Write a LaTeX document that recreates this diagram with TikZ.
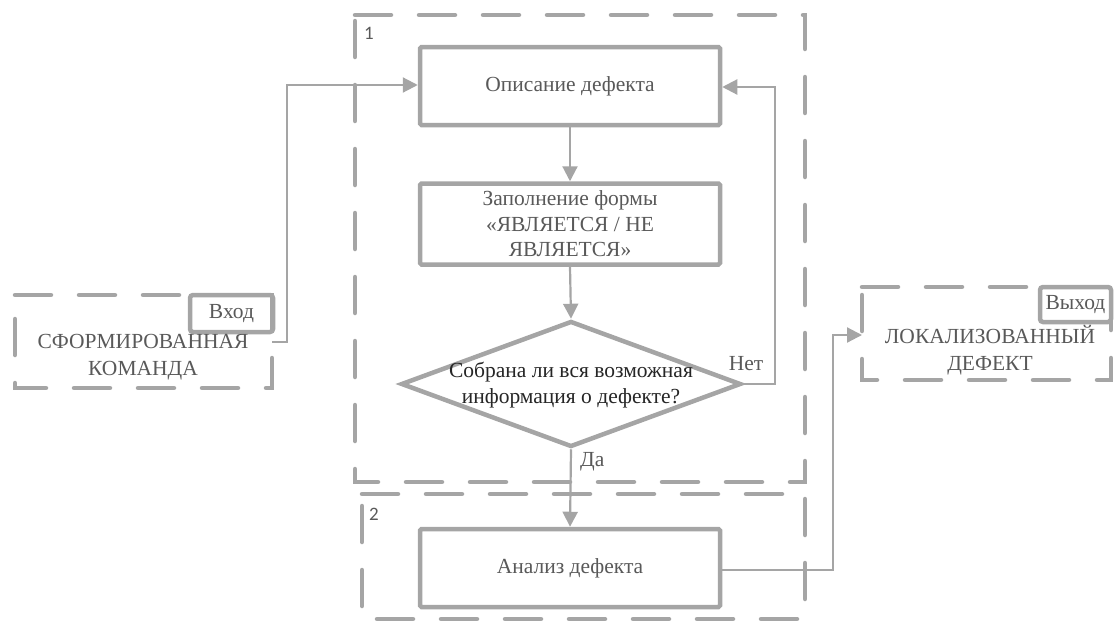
\documentclass[tikz,border=0pt]{standalone}
\usepackage{fontspec}
\setmainfont{Liberation Serif}
\newfontfamily\numfont{Carlito}
\usetikzlibrary{shapes.geometric,arrows.meta}
\definecolor{lg}{HTML}{A5A5A5}
\definecolor{tg}{HTML}{595959}
\definecolor{dg}{HTML}{262626}
\tikzset{
  procbox/.style={draw=lg, line width=4.5pt, rounded corners=1.5pt, fill=white, inner sep=0pt,
    minimum width=300pt, text=tg, align=center, font=\fontsize{21.5}{25.5}\selectfont},
  grpbox/.style={draw=lg, line width=4.5pt, line cap=round, dash pattern=on 36pt off 28pt},
  tagbox/.style={draw=lg, line width=4.5pt, rounded corners=3pt, inner sep=0pt, text=tg,
    font=\fontsize{21.5}{25}\selectfont},
  conn/.style={draw=lg, line width=2.2pt},
  arr/.style={conn, -{Triangle[length=15pt,width=15pt]}},
  lbl/.style={text=tg, font=\fontsize{21.5}{27}\selectfont, inner sep=0pt, align=center},
  numlbl/.style={text=tg, font=\numfont\fontsize{19}{22}\selectfont, inner sep=0pt},
}
\begin{document}
\begin{tikzpicture}[x=1pt,y=-1pt]
\useasboundingbox (0,0) rectangle (1115,621);
% group frames
\draw[grpbox] (355,15) -- (805,15) -- (805,482) -- (355,482) -- cycle;
\draw[grpbox] (362,494) -- (805,494) -- (805,619) -- (362,619) -- cycle;
\node[numlbl] (n1) at (369,33) {1};
\node[numlbl] (n2) at (374,514) {2};
% input / output frames
\draw[grpbox] (15,295) -- (272,295) -- (272,388) -- (15,388) -- cycle;
\node[tagbox, minimum width=83pt, minimum height=37pt] (inTag) at (231.5,313.5) {Вход};
\node[lbl] (inTxt) at (143,357) {СФОРМИРОВАННАЯ\\КОМАНДА};
\coordinate (inR) at (272,342);
\draw[grpbox] (862,287) -- (1111,287) -- (1111,380) -- (862,380) -- cycle;
\node[tagbox, minimum width=71pt, minimum height=35pt] (outTag) at (1075.5,304.5) {Выход};
\node[lbl] (outTxt) at (990,350) {ЛОКАЛИЗОВАННЫЙ\\ДЕФЕКТ};
\coordinate (outL) at (862,335);
% process boxes
\node[procbox, minimum height=78pt] (b1) at (570,86) {Описание дефекта};
\node[procbox, minimum height=81pt] (b2) at (570,224) {Заполнение формы\\«ЯВЛЯЕТСЯ / НЕ\\ЯВЛЯЕТСЯ»};
\node[diamond, draw=lg, line width=4.5pt, fill=white, inner sep=0pt,
      minimum width=340pt, minimum height=126pt] (d) at (571,384) {};
\node[text=dg, align=center, font=\fontsize{21.5}{26}\selectfont, inner sep=0pt] (dt) at (571,385)
  {Собрана ли вся возможная\\информация о дефекте?};
\node[procbox, minimum height=78pt] (b3) at (570,568) {Анализ дефекта};
% connectors
\draw[arr] (b1.south) -- (b2.north);
\draw[arr] (b2.south) -- (d.north);
\draw[arr] (d.south) -- (b3.north);
\node[lbl, anchor=west] (yes) at (580,462) {Да};
\draw[arr] (d.east) -| (775,87) -- (b1.east |- 0,87);
\node[lbl] (no) at (746,364) {Нет};
\draw[arr] (inR) -| (287,85) -- (b1.west |- 0,85);
\draw[arr] (b3.east |- 0,570) -| (833,335) -- (outL);
\end{tikzpicture}
\end{document}
